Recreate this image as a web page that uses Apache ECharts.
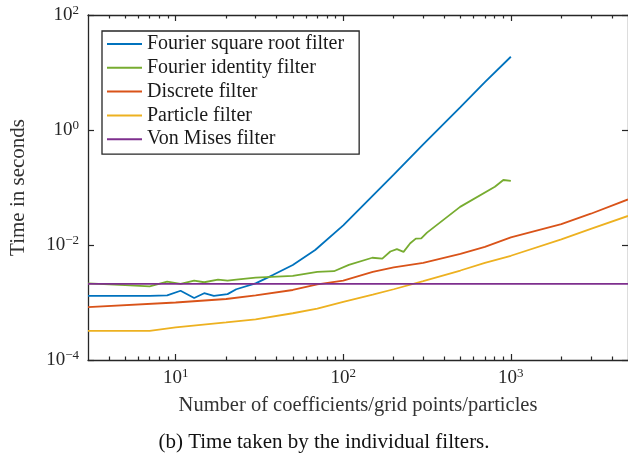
<!DOCTYPE html>
<html>
<head>
<meta charset="utf-8">
<script src="https://cdn.jsdelivr.net/npm/echarts@6/dist/echarts.min.js"></script>
<style>
  html, body { margin: 0; padding: 0; background: #fff; }
  #chart { width: 628px; height: 458px; }
</style>
</head>
<body>
<div id="chart"></div>
<script>
// values (log-log)
const seriesNames = [
  "Fourier square root filter",
  "Fourier identity filter",
  "Discrete filter",
  "Particle filter",
  "Von Mises filter"
];

const xSqrt = [3, 7, 8.9, 10.7, 12.9, 14.8, 16.9, 20.4, 23, 30, 38, 50, 68, 100, 200, 300, 500, 700, 1000];
const ySqrt = [0.0013, 0.0013, 0.00133, 0.0016, 0.0012, 0.00145, 0.0013, 0.0014, 0.0017, 0.00215, 0.003, 0.0045, 0.0082, 0.022, 0.167, 0.56, 2.5, 6.8, 18.8];

const xIdent = [3, 5, 7, 8.9, 10.7, 12.9, 14.8, 17.9, 20.4, 23, 30, 50, 70, 88, 108, 149, 171, 191, 209, 229, 251, 271, 292, 316, 498, 803, 902, 1000];
const yIdent = [0.00215, 0.002, 0.0019, 0.0023, 0.0021, 0.0024, 0.00225, 0.0025, 0.0024, 0.0025, 0.0027, 0.0029, 0.0034, 0.0035, 0.0045, 0.006, 0.0058, 0.0077, 0.0085, 0.0076, 0.0107, 0.0129, 0.013, 0.0164, 0.046, 0.103, 0.135, 0.13];

const xDisc = [3, 10, 20, 30, 50, 70, 100, 150, 200, 300, 500, 700, 1000, 2000, 3000, 5000];
const yDisc = [0.00083, 0.001, 0.00115, 0.00133, 0.00165, 0.00207, 0.0024, 0.0034, 0.0041, 0.0049, 0.007, 0.0093, 0.0136, 0.023, 0.035, 0.062];

const xPart = [3, 7, 10, 20, 30, 50, 70, 100, 150, 200, 300, 500, 700, 1000, 2000, 3000, 5000];
const yPart = [0.00032, 0.00032, 0.00037, 0.00045, 0.00051, 0.00065, 0.00078, 0.00103, 0.00137, 0.0017, 0.00235, 0.0036, 0.0049, 0.0065, 0.0125, 0.019, 0.032];

const xVm = [3, 5000];
const yVm = [0.0021, 0.0021];

const xMajorTicks = [10, 100, 1000];
const xMinorTicks = [4, 5, 6, 7, 8, 9, 20, 30, 40, 50, 60, 70, 80, 90, 200, 300, 400, 500, 600, 700, 800, 900, 2000, 3000, 4000];
const yMajorTicks = [1e-4, 1e-2, 1, 100];

const colors = ["#0072BD", "#77AC30", "#D95319", "#EDB120", "#7E2F8E"];

const FONT = "Liberation Serif";
const AXIS_COLOR = "#262626";

const pairs = (xs, ys) => xs.map((x, i) => [x, ys[i]]);

const supLabel = (v) => {
  const e = Math.round(Math.log10(v));
  return "{b|10}{s|" + String(e).replace("-", "\u2212") + "}";
};

const labelRich = {
  b: { fontFamily: FONT, fontSize: 19, color: AXIS_COLOR },
  s: { fontFamily: FONT, fontSize: 13, color: AXIS_COLOR, padding: [0, 0, 9, 0] }
};

const xBase = {
  type: "log",
  logBase: 10,
  min: 3,
  max: 5000,
  splitLine: { show: false },
  axisLine: { show: true, lineStyle: { color: AXIS_COLOR, width: 1.3 } }
};

const yBase = {
  type: "log",
  logBase: 10,
  min: 1e-4,
  max: 100,
  splitLine: { show: false },
  axisLine: { show: true, lineStyle: { color: AXIS_COLOR, width: 1.3 } }
};

const chart = echarts.init(document.getElementById("chart"));

const option = {
  animation: false,
  backgroundColor: "#fff",
  color: colors,
  grid: { left: 87, right: -2, top: 15, bottom: 98, containLabel: false },
  legend: {
    orient: "vertical",
    left: 102,
    top: 31,
    data: seriesNames,
    icon: "rect",
    itemWidth: 35,
    itemHeight: 2,
    itemGap: 3.8,
    itemTextGap: 4,
    padding: [3, 15, 5, 5],
    borderColor: AXIS_COLOR,
    borderWidth: 1.3,
    backgroundColor: "#fff",
    textStyle: { fontFamily: FONT, fontSize: 20, lineHeight: 20, color: "#1a1a1a" }
  },
  xAxis: [
    Object.assign({}, xBase, {
      position: "bottom",
      name: "Number of coefficients/grid points/particles",
      nameLocation: "middle",
      nameGap: 35,
      nameTextStyle: { fontFamily: FONT, fontSize: 20.5, color: "#333" },
      axisTick: { show: true, inside: true, length: 6, customValues: xMajorTicks, lineStyle: { color: AXIS_COLOR, width: 1.2 } },
      axisLabel: { show: true, customValues: xMajorTicks, formatter: supLabel, rich: labelRich, margin: 7 }
    }),
    Object.assign({}, xBase, {
      position: "top",
      axisTick: { show: true, inside: true, length: 6, customValues: xMajorTicks, lineStyle: { color: AXIS_COLOR, width: 1.2 } },
      axisLabel: { show: false }
    }),
    Object.assign({}, xBase, {
      position: "bottom",
      axisLine: { show: false },
      axisTick: { show: true, inside: true, length: 3.5, customValues: xMinorTicks, lineStyle: { color: AXIS_COLOR, width: 1.2 } },
      axisLabel: { show: false }
    }),
    Object.assign({}, xBase, {
      position: "top",
      axisLine: { show: false },
      axisTick: { show: true, inside: true, length: 3.5, customValues: xMinorTicks, lineStyle: { color: AXIS_COLOR, width: 1.2 } },
      axisLabel: { show: false }
    })
  ],
  yAxis: [
    Object.assign({}, yBase, {
      position: "left",
      name: "Time in seconds",
      nameLocation: "middle",
      nameGap: 59,
      nameTextStyle: { fontFamily: FONT, fontSize: 21, color: "#333" },
      axisTick: { show: true, inside: true, length: 6, customValues: yMajorTicks, lineStyle: { color: AXIS_COLOR, width: 1.2 } },
      axisLabel: { show: true, customValues: yMajorTicks, formatter: supLabel, rich: labelRich, margin: 9 }
    }),
    Object.assign({}, yBase, {
      position: "right",
      axisTick: { show: true, inside: true, length: 6, customValues: yMajorTicks, lineStyle: { color: AXIS_COLOR, width: 1.2 } },
      axisLabel: { show: false }
    })
  ],
  graphic: [
    {
      type: "text",
      x: 324,
      y: 442,
      style: {
        text: "(b) Time taken by the individual filters.",
        fontFamily: FONT,
        fontSize: 21,
        fill: "#111",
        align: "center",
        verticalAlign: "middle"
      }
    }
  ],
  series: [
    [xSqrt, ySqrt],
    [xIdent, yIdent],
    [xDisc, yDisc],
    [xPart, yPart],
    [xVm, yVm]
  ].map(([xs, ys], i) => ({
    name: seriesNames[i],
    type: "line",
    xAxisIndex: 0,
    yAxisIndex: 0,
    data: pairs(xs, ys),
    showSymbol: false,
    symbol: "none",
    lineStyle: { width: 1.8, color: colors[i] },
    itemStyle: { color: colors[i] },
    clip: true
  }))
};

chart.setOption(option);
</script>
</body>
</html>
